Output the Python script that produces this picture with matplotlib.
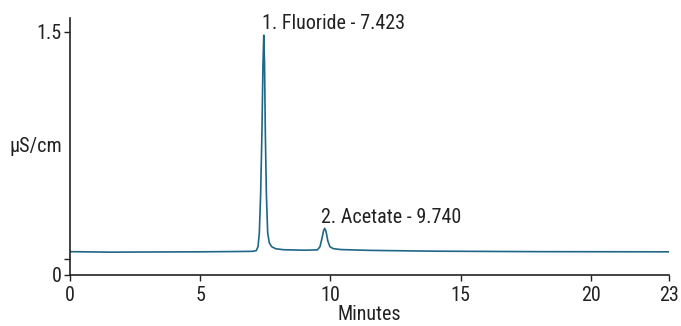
import matplotlib as mpl
mpl.use('Agg')
import matplotlib.pyplot as plt

plt.rcParams['font.family'] = ['Roboto Condensed', 'Liberation Sans', 'DejaVu Sans']

# chromatogram trace (minutes, uS/cm)
times = [0, 1.6, 3, 5, 6.5, 7.0, 7.15, 7.22, 7.27, 7.32, 7.37, 7.41, 7.44,
         7.47, 7.50, 7.54, 7.59, 7.65, 7.74, 7.9, 8.2, 9.0, 9.5, 9.6, 9.68,
         9.74, 9.78, 9.83, 9.9, 9.98, 10.1, 10.4, 11.5, 14, 18, 23]
signal = [0.144, 0.141, 0.142, 0.143, 0.145, 0.146, 0.150, 0.175, 0.26, 0.50,
          0.88, 1.30, 1.48, 1.30, 0.88, 0.50, 0.26, 0.20, 0.175, 0.162, 0.156,
          0.153, 0.155, 0.175, 0.23, 0.275, 0.288, 0.27, 0.21, 0.175, 0.163,
          0.157, 0.152, 0.147, 0.144, 0.143]

peak_labels = ['1. Fluoride - 7.423', '2. Acetate - 9.740']
label_x = [7.36, 9.63]
label_y = [1.517, 0.323]

xticks = [0, 5, 10, 15, 20, 23]
yticks = [0, 0.1, 1.5]
ytick_labels = ['0', '', '1.5']

fig = plt.figure(figsize=(6.81, 3.26), dpi=100)
ax = fig.add_axes([70/681, 1 - 275/326, 599/681, 257/326])

ax.plot(times, signal, color='#1f6786', lw=1.2)

for s, x, y in zip(peak_labels, label_x, label_y):
    ax.text(x, y, s, fontsize=14.5, color='#222222', ha='left', va='baseline')

ax.set_xlim(0, 23)
ax.set_ylim(0, 1.586)
ax.set_xticks(xticks)
ax.set_yticks(yticks)
ax.set_yticklabels(ytick_labels)
ax.tick_params(direction='out', length=4, width=1, labelsize=14.5, colors='#222222')
ax.tick_params(axis='x', pad=4)
ax.tick_params(axis='y', pad=2)
ax.spines['top'].set_visible(False)
ax.spines['right'].set_visible(False)
for sp in ['left', 'bottom']:
    ax.spines[sp].set_color('#222222')
    ax.spines[sp].set_linewidth(1.2)

ax.set_xlabel('Minutes', fontsize=14.5, color='#222222', labelpad=0)
ax.text(-0.057, 0.50, 'µS/cm', transform=ax.transAxes, fontsize=14.5,
        color='#222222', ha='center', va='center')

plt.savefig('out.png', dpi=100)
plt.close('all')
